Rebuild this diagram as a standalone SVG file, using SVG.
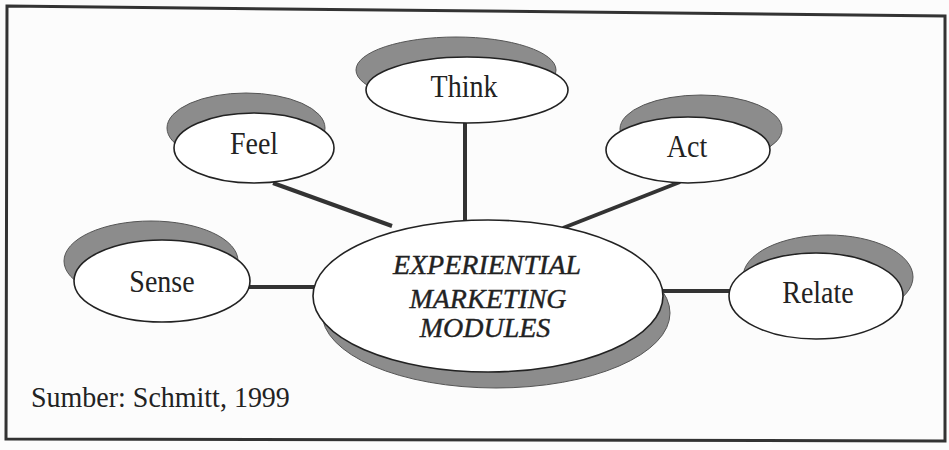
<svg xmlns="http://www.w3.org/2000/svg" width="949" height="450" viewBox="0 0 949 450">
<defs>
<style>
.bg{fill:#fcfcfc}
.frame{fill:none;stroke:#333;stroke-width:3}
.shadow{fill:#8c8c8c;stroke:#555;stroke-width:1}
.node{fill:#fff;stroke:#222;stroke-width:1.6}
.lbl{font-family:"Liberation Serif","Times New Roman",serif;font-size:28px;fill:#222;text-anchor:middle}
.core{font-family:"Liberation Serif","Times New Roman",serif;font-size:28px;font-style:italic;fill:#222;stroke:#222;stroke-width:0.4;text-anchor:middle}
.link{stroke:#333;stroke-width:4;fill:none;stroke-linecap:butt}
</style>
</defs>
<rect class="bg" x="0" y="0" width="949" height="450"/>
<path class="frame" d="M7,6 L945,16 L945,441 L6,439 Z"/>
<g id="connectors">
<line class="link" x1="273" y1="183" x2="392" y2="226"/>
<line class="link" x1="465" y1="122" x2="465" y2="220"/>
<line class="link" x1="680" y1="182" x2="563" y2="228"/>
<line class="link" x1="248" y1="287" x2="318" y2="287"/>
<line class="link" x1="658" y1="291" x2="732" y2="291"/>
</g>
<g id="think">
<ellipse class="shadow" cx="456" cy="70" rx="100" ry="33"/>
<ellipse class="node" cx="467" cy="90" rx="101" ry="33"/>
<text class="lbl" transform="translate(464,97) scale(1,1.1)">Think</text>
</g>
<g id="feel">
<ellipse class="shadow" cx="246" cy="128" rx="79" ry="35"/>
<ellipse class="node" cx="254" cy="148" rx="80" ry="35"/>
<text class="lbl" transform="translate(254,154) scale(1,1.1)">Feel</text>
</g>
<g id="act">
<ellipse class="shadow" cx="701" cy="129" rx="81" ry="34"/>
<ellipse class="node" cx="688" cy="150" rx="82" ry="33"/>
<text class="lbl" transform="translate(687,157) scale(1,1.1)">Act</text>
</g>
<g id="sense">
<ellipse class="shadow" cx="151" cy="261" rx="87" ry="40"/>
<ellipse class="node" cx="162" cy="281" rx="88" ry="41"/>
<text class="lbl" transform="translate(162,292) scale(1,1.1)">Sense</text>
</g>
<g id="relate">
<ellipse class="shadow" cx="828" cy="277" rx="85" ry="42"/>
<ellipse class="node" cx="816" cy="296" rx="87" ry="43"/>
<text class="lbl" transform="translate(818,303) scale(1,1.1)">Relate</text>
</g>
<g id="core">
<ellipse class="shadow" cx="496" cy="313" rx="174" ry="75"/>
<ellipse class="node" cx="488" cy="296" rx="175" ry="76"/>
<text class="core" x="487" y="274">EXPERIENTIAL</text>
<text class="core" x="488" y="308">MARKETING</text>
<text class="core" x="485" y="337">MODULES</text>
</g>
<text transform="translate(31,407) scale(1,1.08)" font-family="'Liberation Serif','Times New Roman',serif" font-size="28" fill="#222">Sumber: Schmitt, 1999</text>
</svg>
